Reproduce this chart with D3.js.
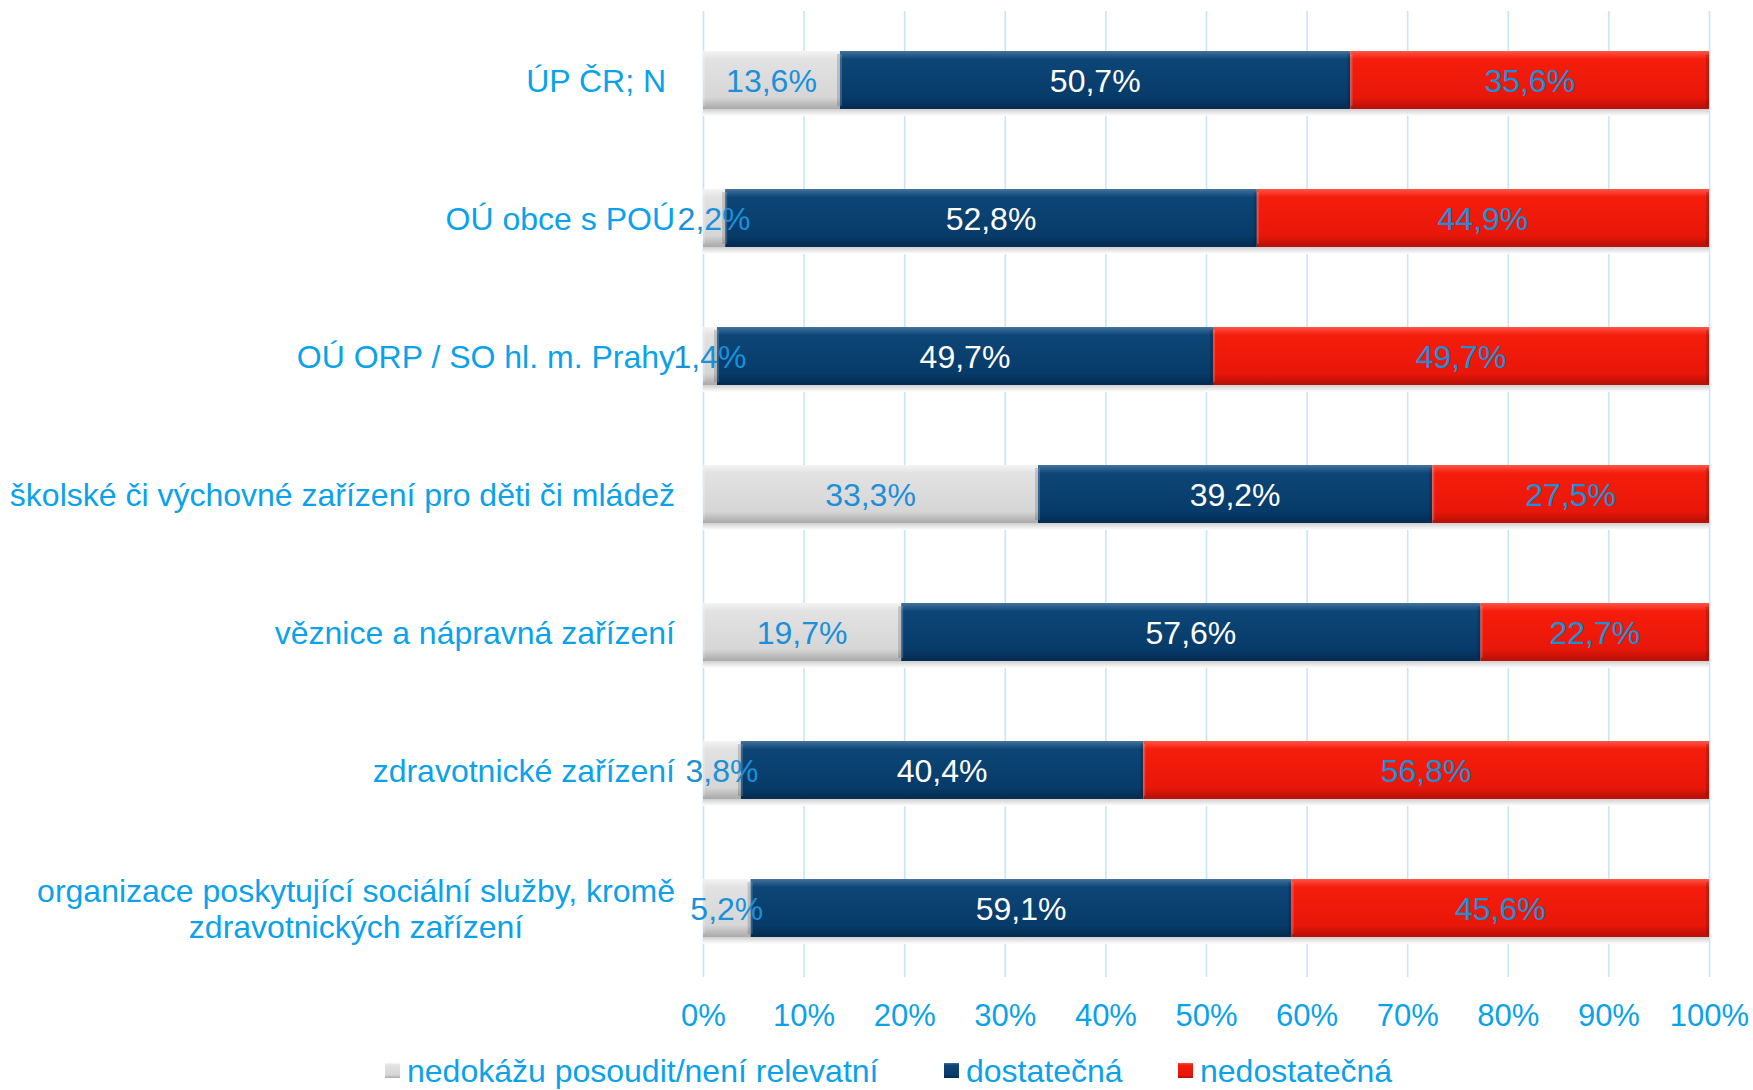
<!DOCTYPE html>
<html><head><meta charset="utf-8">
<script src="https://cdn.jsdelivr.net/npm/d3@7"></script>
<style>
html,body{margin:0;padding:0;background:#fff;}
text{font-family:"Liberation Sans",Arial,sans-serif;}
</style></head>
<body>
<svg id="chart" width="1753" height="1090"></svg>
<script>
const categories = [
  "ÚP ČR; N\u00a0",
  "OÚ obce s POÚ",
  "OÚ ORP / SO hl. m. Prahy",
  "školské či výchovné zařízení pro děti či mládež",
  "věznice a nápravná zařízení",
  "zdravotnické zařízení",
  "organizace poskytující sociální služby, kromě\nzdravotnických zařízení"
];
const seriesNames = ["nedokážu posoudit/není relevatní", "dostatečná", "nedostatečná"];
const nedokazu = [13.6, 2.2, 1.4, 33.3, 19.7, 3.8, 5.2];
const dostatecna = [50.7, 52.8, 49.7, 39.2, 57.6, 40.4, 59.1];
const nedostatecna = [35.6, 44.9, 49.7, 27.5, 22.7, 56.8, 45.6];
const tickValues = [0, 0.1, 0.2, 0.3, 0.4, 0.5, 0.6, 0.7, 0.8, 0.9, 1.0];
const tickLabels = ["0%", "10%", "20%", "30%", "40%", "50%", "60%", "70%", "80%", "90%", "100%"];

const keys = ["s0", "s1", "s2"];
const rows = categories.map((c, i) => ({cat: c, s0: nedokazu[i], s1: dostatecna[i], s2: nedostatecna[i]}));

const svg = d3.select("#chart");
const x = d3.scaleLinear().domain([0, 1]).range([703, 1709]);
const y = d3.scaleBand().domain(categories).range([11, 977]).paddingInner(0.58).paddingOuter(0.29);

const labelBlue = "#0aa2ea";
const dataBlue = "#1b90d8";

// gradients
const defs = svg.append("defs");
const grads = {
  s0: [["0%", "#f4f4f4"], ["14%", "#e2e2e2"], ["80%", "#d6d6d6"], ["100%", "#a9a9a9"]],
  s1: [["0%", "#44729c"], ["14%", "#0c4677"], ["80%", "#073b69"], ["100%", "#032a50"]],
  s2: [["0%", "#ff5547"], ["14%", "#f51d0b"], ["80%", "#e8170a"], ["100%", "#b40f06"]]
};
Object.entries(grads).forEach(([k, stops]) => {
  const g = defs.append("linearGradient").attr("id", "g_" + k).attr("x1", 0).attr("y1", 0).attr("x2", 0).attr("y2", 1);
  stops.forEach(s => g.append("stop").attr("offset", s[0]).attr("stop-color", s[1]));
});
const sg = defs.append("linearGradient").attr("id", "shadow").attr("x1", 0).attr("y1", 0).attr("x2", 0).attr("y2", 1);
sg.append("stop").attr("offset", "0%").attr("stop-color", "#cfcfcf");
sg.append("stop").attr("offset", "100%").attr("stop-color", "#ffffff");

// gridlines + axis
const axis = d3.axisBottom(x).tickValues(tickValues).tickFormat((d, i) => tickLabels[i])
  .tickSize(-966).tickPadding(27);
const ax = svg.append("g").attr("transform", "translate(0,977)").call(axis);
ax.select(".domain").remove();
ax.selectAll(".tick line").attr("stroke", "#c6e5f9").attr("stroke-width", 1.6);
ax.selectAll(".tick text").attr("fill", labelBlue).attr("font-size", 31)
  .attr("font-family", '"Liberation Sans",Arial,sans-serif');

// stack (100% stacked)
const stack = d3.stack().keys(keys).offset(d3.stackOffsetExpand);
const series = stack(rows);

// shadows below bars
svg.append("g").selectAll("rect").data(rows).join("rect")
  .attr("x", x(0)).attr("width", x(1) - x(0))
  .attr("y", d => y(d.cat) + y.bandwidth()).attr("height", 7)
  .attr("fill", "url(#shadow)");

const bars = svg.append("g");
series.forEach(s => {
  const g = bars.append("g");
  g.selectAll("rect.main").data(s).join("rect").attr("class", "main")
    .attr("x", d => x(d[0])).attr("width", d => x(d[1]) - x(d[0]))
    .attr("y", d => y(d.data.cat)).attr("height", y.bandwidth())
    .attr("fill", "url(#g_" + s.key + ")");
  // bevel edges
  g.selectAll("rect.edgeL").data(s).join("rect").attr("class", "edgeL")
    .attr("x", d => x(d[0])).attr("width", 2)
    .attr("y", d => y(d.data.cat) + 3).attr("height", y.bandwidth() - 6)
    .attr("fill", "#ffffff").attr("opacity", 0.18);
  g.selectAll("rect.edgeR").data(s).join("rect").attr("class", "edgeR")
    .attr("x", d => x(d[1]) - 3).attr("width", 3)
    .attr("y", d => y(d.data.cat) + 3).attr("height", y.bandwidth() - 6)
    .attr("fill", "#000000").attr("opacity", 0.15);
});

// data labels
const fmt = v => d3.format(".1f")(v).replace(".", ",") + "%";
series.forEach(s => {
  bars.append("g").selectAll("text").data(s).join("text")
    .attr("x", d => (x(d[0]) + x(d[1])) / 2)
    .attr("y", d => y(d.data.cat) + y.bandwidth() / 2)
    .attr("dy", "0.36em")
    .attr("text-anchor", "middle")
    .attr("font-size", 32)
    .attr("fill", s.key === "s1" ? "#ffffff" : dataBlue)
    .text(d => fmt(d.data[s.key]));
});

// category labels
const catG = svg.append("g");
categories.forEach(c => {
  const lines = c.split("\n");
  const cy = y(c) + y.bandwidth() / 2;
  if (lines.length === 1) {
    catG.append("text").attr("x", 675).attr("y", cy).attr("dy", "0.36em")
      .attr("text-anchor", "end").attr("font-size", 32).attr("fill", labelBlue)
      .style("white-space", "pre").text(c);
  } else {
    const lh = 36;
    const t0 = catG.append("text").attr("font-size", 32).text(lines[0]);
    const w = t0.node().getComputedTextLength();
    t0.remove();
    const cx = 675 - w / 2;
    lines.forEach((l, i) => {
      catG.append("text").attr("x", cx).attr("y", cy + (i - (lines.length - 1) / 2) * lh)
        .attr("dy", "0.36em").attr("text-anchor", "middle").attr("font-size", 32)
        .attr("fill", labelBlue).text(l);
    });
  }
});

// legend
const legendX = [385, 944, 1178];
const leg = svg.append("g");
seriesNames.forEach((n, i) => {
  leg.append("rect").attr("x", legendX[i]).attr("y", 1063).attr("width", 15).attr("height", 15)
    .attr("fill", "url(#g_" + keys[i] + ")");
  leg.append("text").attr("x", legendX[i] + 22).attr("y", 1070).attr("dy", "0.36em")
    .attr("font-size", 32).attr("fill", labelBlue).text(n);
});
</script>
</body></html>
